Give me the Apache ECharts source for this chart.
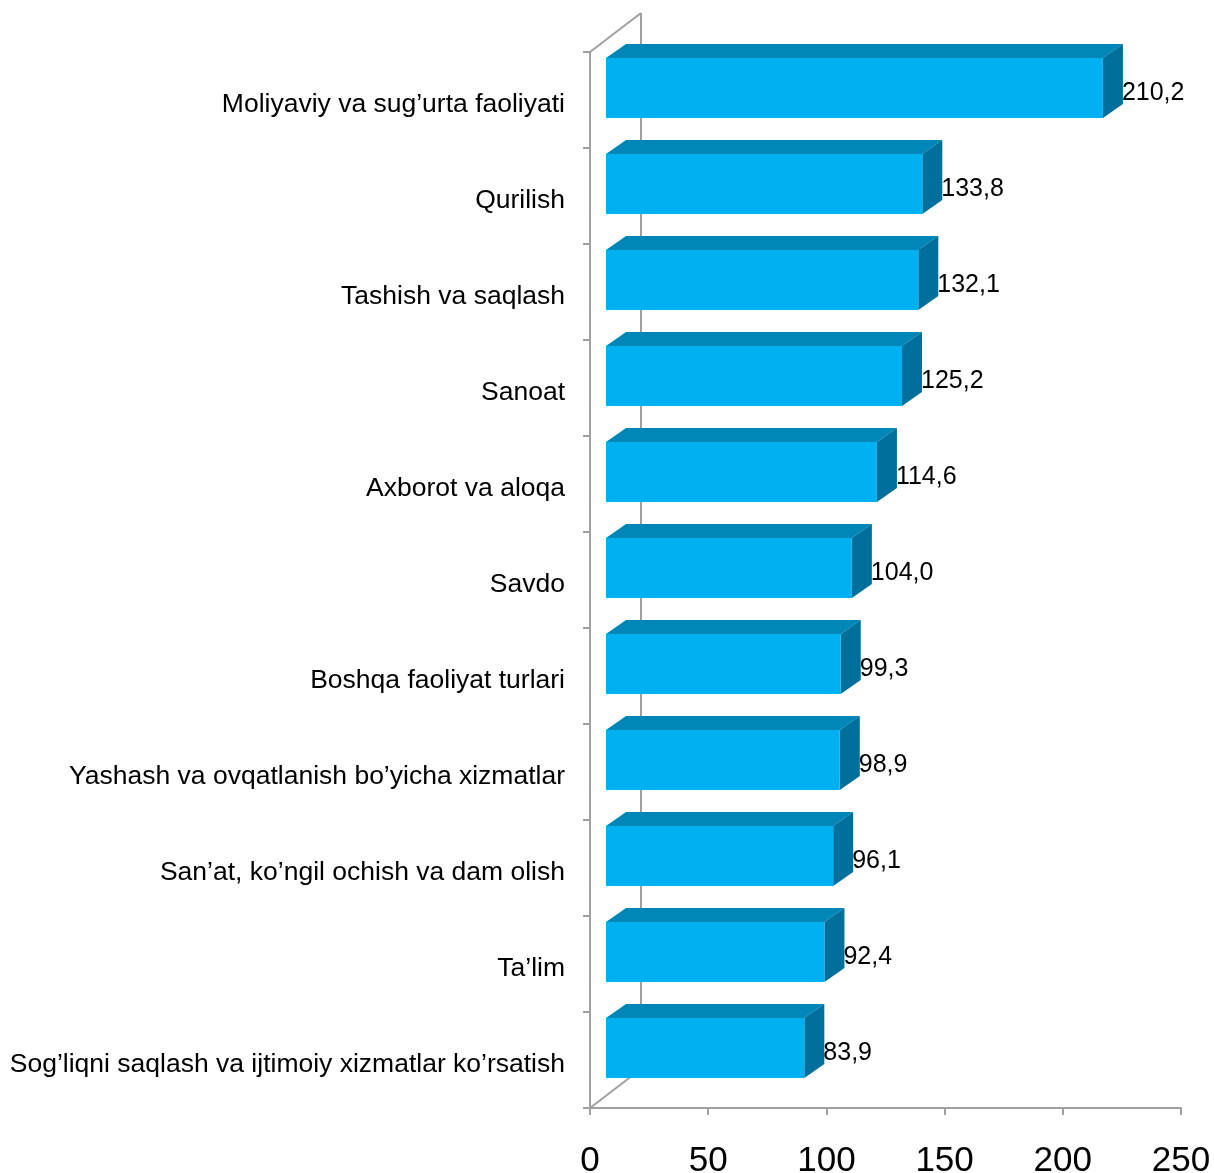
<!DOCTYPE html>
<html>
<head>
<meta charset="utf-8">
<style>
  html, body { margin: 0; padding: 0; background: #ffffff; }
  #chart { width: 1214px; height: 1173px; }
</style>
<script src="https://cdn.jsdelivr.net/npm/echarts@6/dist/echarts.min.js"></script>
</head>
<body>
<div id="chart"></div>
<script>
const categories = [
  "Moliyaviy va sug’urta faoliyati",
  "Qurilish",
  "Tashish va saqlash",
  "Sanoat",
  "Axborot va aloqa",
  "Savdo",
  "Boshqa faoliyat turlari",
  "Yashash va ovqatlanish bo’yicha xizmatlar",
  "San’at, ko’ngil ochish va dam olish",
  "Ta’lim",
  "Sog’liqni saqlash va ijtimoiy xizmatlar ko’rsatish"
];
const values = [210.2, 133.8, 132.1, 125.2, 114.6, 104.0, 99.3, 98.9, 96.1, 92.4, 83.9];
const xTicks = [0, 50, 100, 150, 200, 250];

const FONT = "'Liberation Sans', Arial, sans-serif";
const FRONT = '#00B0F0';
const TOP = '#0087B8';
const SIDE = '#006F9B';
const FRAME = '#A0A0A0';

const chart = echarts.init(document.getElementById('chart'));

function renderFrame(params, api) {
  const cs = params.coordSys;
  const dx = 51, dy = -39;
  const x0 = cs.x, yTop = cs.y, yBot = cs.y + cs.height;
  const style = { stroke: FRAME, lineWidth: 2, fill: null };
  return {
    type: 'group',
    children: [
      { type: 'line', shape: { x1: x0 + dx, y1: yTop + dy, x2: x0 + dx, y2: yBot + dy }, style },
      { type: 'line', shape: { x1: x0, y1: yTop, x2: x0 + dx, y2: yTop + dy }, style },
      { type: 'line', shape: { x1: x0, y1: yBot, x2: x0 + dx, y2: yBot + dy }, style }
    ]
  };
}

function renderBar(params, api) {
  const v = api.value(0);
  const idx = api.value(1);
  const band = api.size([0, 1])[1];
  const p0 = api.coord([0, idx]);
  const p1 = api.coord([v, idx]);
  const sx = 16, sy = -12;     // bar plane offset into depth
  const ddx = 20, ddy = -14;   // bar depth
  const h = band * 0.625;
  const xa = p0[0] + sx, xb = p1[0] + sx;
  const yc = p0[1] + sy;
  const yt = yc - h / 2, yb = yc + h / 2;
  return {
    type: 'group',
    children: [
      { type: 'polygon', shape: { points: [[xa, yt], [xa + ddx, yt + ddy], [xb + ddx, yt + ddy], [xb, yt]] }, style: { fill: TOP } },
      { type: 'polygon', shape: { points: [[xb, yt], [xb + ddx, yt + ddy], [xb + ddx, yb + ddy], [xb, yb]] }, style: { fill: SIDE } },
      { type: 'rect', shape: { x: xa, y: yt, width: xb - xa, height: h }, style: { fill: FRONT } },
      { type: 'text', x: xb + 19, y: yc + 5, style: { text: v.toFixed(1).replace('.', ','), fill: '#000', font: '25px ' + FONT, verticalAlign: 'middle', align: 'left' } }
    ]
  };
}

chart.setOption({
  animation: false,
  backgroundColor: '#ffffff',
  grid: { left: 590, right: 33, top: 52, bottom: 65, containLabel: false, outerBoundsMode: 'none' },
  xAxis: {
    type: 'value', min: xTicks[0], max: xTicks[xTicks.length - 1], interval: 50,
    axisLine: { show: true, lineStyle: { color: FRAME, width: 2 } },
    axisTick: { show: true, length: 7, lineStyle: { color: FRAME, width: 2 } },
    splitLine: { show: false },
    axisLabel: { color: '#000', fontSize: 35, fontFamily: FONT, margin: 36 }
  },
  yAxis: {
    type: 'category', data: categories, inverse: true,
    axisLine: { show: true, lineStyle: { color: FRAME, width: 2 } },
    axisTick: { show: true, length: 7, lineStyle: { color: FRAME, width: 2 } },
    axisLabel: { color: '#000', fontSize: 26.5, fontFamily: FONT, margin: 25, verticalAlign: 'top', lineHeight: 10 }
  },
  series: [
    { type: 'custom', renderItem: renderFrame, data: [[0, 0]], encode: { x: 0, y: 1 }, z: 1, silent: true },
    { type: 'custom', renderItem: renderBar, data: values.map((v, i) => [v, i]), encode: { x: 0, y: 1 }, z: 3 }
  ]
});
</script>
</body>
</html>
